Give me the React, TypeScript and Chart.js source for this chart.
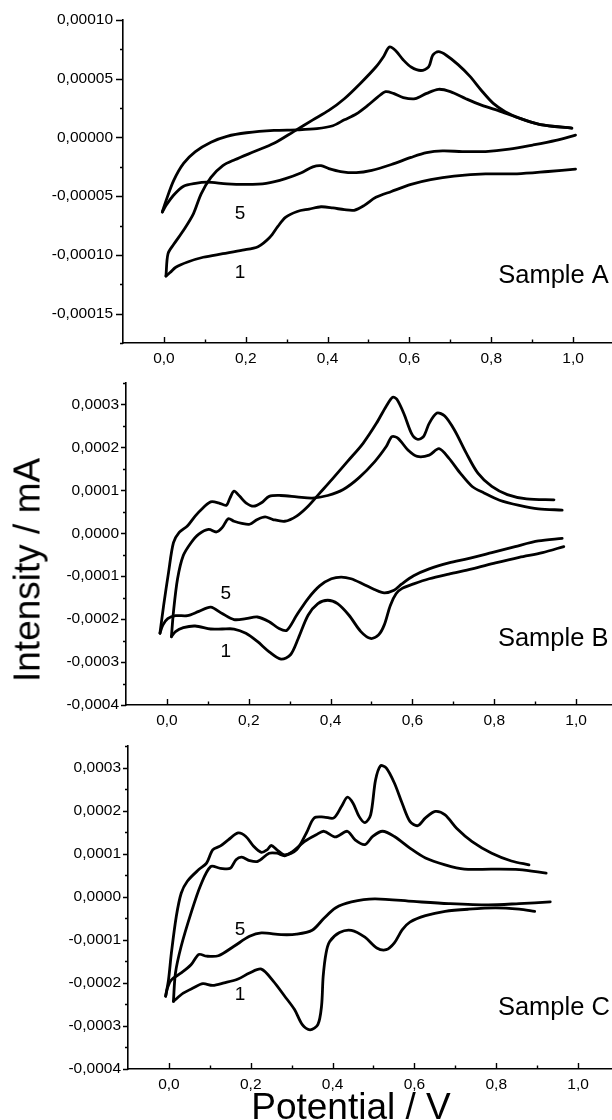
import React, { useEffect, useRef } from "react";
import { Chart, registerables } from "chart.js";

Chart.register(...registerables);

type Pt = [number, number]; // [potential V, intensity mA]

// ---------------- Sample A ----------------
const A_cycle1_anodic: Pt[] = [
  [0.005, -11.8e-5], [0.010, -9.9e-5], [0.024, -9.1e-5], [0.048, -7.9e-5], [0.072, -6.5e-5], [0.091, -4.8e-5],
  [0.115, -3.4e-5], [0.144, -2.4e-5], [0.173, -1.9e-5], [0.221, -1.2e-5], [0.269, -0.5e-5], [0.317, 0.5e-5],
  [0.364, 1.5e-5], [0.403, 2.3e-5], [0.441, 3.3e-5], [0.480, 4.6e-5], [0.518, 6.0e-5], [0.537, 6.9e-5],
  [0.551, 7.7e-5], [0.566, 7.4e-5], [0.585, 6.6e-5], [0.604, 6.0e-5], [0.628, 5.7e-5], [0.647, 6.0e-5],
  [0.657, 7.0e-5], [0.671, 7.3e-5], [0.690, 7.0e-5], [0.719, 6.2e-5], [0.748, 5.2e-5], [0.776, 4.0e-5],
  [0.805, 2.9e-5], [0.834, 2.2e-5], [0.872, 1.6e-5], [0.920, 1.1e-5], [0.997, 0.8e-5],
];
const A_cycle1_cathodic: Pt[] = [
  [1.006, -2.7e-5], [0.939, -2.9e-5], [0.863, -3.1e-5], [0.786, -3.1e-5], [0.709, -3.3e-5], [0.652, -3.6e-5],
  [0.604, -4.0e-5], [0.556, -4.6e-5], [0.518, -5.1e-5], [0.489, -5.8e-5], [0.465, -6.2e-5], [0.441, -6.15e-5],
  [0.413, -6.0e-5], [0.384, -5.9e-5], [0.355, -6.1e-5], [0.326, -6.3e-5], [0.297, -6.8e-5], [0.278, -7.6e-5],
  [0.259, -8.5e-5], [0.230, -9.3e-5], [0.192, -9.6e-5], [0.144, -9.9e-5], [0.096, -10.2e-5], [0.058, -10.6e-5],
  [0.029, -11.05e-5], [0.015, -11.5e-5], [0.005, -11.8e-5],
];
const A_cycle5_anodic: Pt[] = [
  [-0.004, -6.35e-5], [0.005, -5.4e-5], [0.024, -3.65e-5], [0.048, -2.2e-5], [0.077, -1.2e-5], [0.115, -0.4e-5],
  [0.154, 0.1e-5], [0.202, 0.4e-5], [0.269, 0.6e-5], [0.326, 0.65e-5], [0.374, 0.75e-5], [0.413, 1.0e-5],
  [0.441, 1.5e-5], [0.470, 2.0e-5], [0.499, 2.75e-5], [0.523, 3.45e-5], [0.542, 3.9e-5], [0.561, 3.75e-5],
  [0.585, 3.4e-5], [0.614, 3.3e-5], [0.642, 3.75e-5], [0.671, 4.1e-5], [0.700, 3.9e-5], [0.738, 3.3e-5],
  [0.776, 2.75e-5], [0.824, 2.2e-5], [0.872, 1.6e-5], [0.920, 1.1e-5], [0.997, 0.8e-5],
];
const A_cycle5_cathodic: Pt[] = [
  [1.006, 0.2e-5], [0.958, -0.25e-5], [0.901, -0.65e-5], [0.844, -1.0e-5], [0.786, -1.2e-5], [0.729, -1.2e-5],
  [0.681, -1.15e-5], [0.642, -1.3e-5], [0.604, -1.7e-5], [0.556, -2.3e-5], [0.508, -2.8e-5], [0.470, -3.0e-5],
  [0.432, -2.9e-5], [0.403, -2.65e-5], [0.384, -2.4e-5], [0.364, -2.5e-5], [0.336, -3.0e-5], [0.297, -3.5e-5],
  [0.250, -3.9e-5], [0.202, -4.0e-5], [0.154, -3.95e-5], [0.106, -3.8e-5], [0.077, -3.9e-5], [0.048, -4.15e-5],
  [0.024, -4.9e-5], [0.005, -5.8e-5], [-0.004, -6.35e-5],
];

// ---------------- Sample B ----------------
const B_cycle5_anodic: Pt[] = [
  [-0.017, -2.33e-4], [-0.008, -1.68e-4], [0.004, -0.91e-4], [0.016, -0.22e-4], [0.030, 0.02e-4], [0.050, 0.17e-4],
  [0.069, 0.40e-4], [0.088, 0.59e-4], [0.107, 0.73e-4], [0.126, 0.71e-4], [0.145, 0.65e-4], [0.154, 0.82e-4],
  [0.164, 0.98e-4], [0.178, 0.86e-4], [0.193, 0.71e-4], [0.212, 0.63e-4], [0.231, 0.71e-4], [0.250, 0.86e-4],
  [0.278, 0.88e-4], [0.317, 0.85e-4], [0.355, 0.82e-4], [0.393, 0.88e-4], [0.431, 1.02e-4], [0.469, 1.29e-4],
  [0.508, 1.67e-4], [0.536, 2.02e-4], [0.550, 2.25e-4], [0.565, 2.21e-4], [0.589, 1.94e-4], [0.612, 1.79e-4],
  [0.641, 1.82e-4], [0.665, 1.97e-4], [0.689, 1.75e-4], [0.717, 1.40e-4], [0.746, 1.09e-4], [0.775, 0.94e-4],
  [0.813, 0.77e-4], [0.861, 0.65e-4], [0.908, 0.57e-4], [0.966, 0.54e-4],
];
const B_cycle1_anodic: Pt[] = [
  [0.011, -2.41e-4], [0.016, -1.83e-4], [0.026, -1.06e-4], [0.040, -0.52e-4], [0.059, -0.22e-4], [0.078, -0.02e-4],
  [0.102, 0.09e-4], [0.121, 0.03e-4], [0.135, 0.13e-4], [0.150, 0.34e-4], [0.164, 0.28e-4], [0.183, 0.23e-4],
  [0.202, 0.21e-4], [0.221, 0.32e-4], [0.240, 0.38e-4], [0.259, 0.32e-4], [0.288, 0.28e-4], [0.317, 0.40e-4],
  [0.345, 0.63e-4], [0.374, 0.94e-4], [0.403, 1.25e-4], [0.441, 1.67e-4], [0.479, 2.09e-4], [0.512, 2.56e-4],
  [0.536, 2.96e-4], [0.552, 3.17e-4], [0.562, 3.12e-4], [0.579, 2.79e-4], [0.598, 2.32e-4], [0.612, 2.19e-4],
  [0.627, 2.25e-4], [0.641, 2.56e-4], [0.660, 2.80e-4], [0.679, 2.73e-4], [0.703, 2.40e-4], [0.732, 1.86e-4],
  [0.760, 1.40e-4], [0.794, 1.09e-4], [0.832, 0.90e-4], [0.879, 0.80e-4], [0.946, 0.78e-4],
];
const B_cycle5_cathodic: Pt[] = [
  [0.966, -0.12e-4], [0.908, -0.18e-4], [0.851, -0.31e-4], [0.794, -0.45e-4], [0.736, -0.59e-4], [0.689, -0.69e-4],
  [0.641, -0.83e-4], [0.603, -0.99e-4], [0.574, -1.18e-4], [0.555, -1.33e-4], [0.531, -1.39e-4], [0.507, -1.31e-4],
  [0.479, -1.18e-4], [0.450, -1.06e-4], [0.426, -1.02e-4], [0.402, -1.06e-4], [0.374, -1.22e-4], [0.345, -1.52e-4],
  [0.317, -1.91e-4], [0.293, -2.26e-4], [0.274, -2.22e-4], [0.250, -2.06e-4], [0.221, -1.95e-4], [0.193, -1.99e-4],
  [0.164, -2.01e-4], [0.135, -1.87e-4], [0.107, -1.72e-4], [0.078, -1.82e-4], [0.050, -1.92e-4], [0.021, -1.92e-4],
  [0.002, -1.99e-4], [-0.010, -2.14e-4], [-0.017, -2.33e-4],
];
const B_cycle1_cathodic: Pt[] = [
  [0.970, -0.31e-4], [0.918, -0.45e-4], [0.861, -0.56e-4], [0.803, -0.69e-4], [0.746, -0.83e-4], [0.689, -0.95e-4],
  [0.641, -1.06e-4], [0.603, -1.18e-4], [0.574, -1.29e-4], [0.560, -1.41e-4], [0.546, -1.68e-4], [0.531, -2.14e-4],
  [0.517, -2.37e-4], [0.498, -2.45e-4], [0.474, -2.29e-4], [0.445, -1.91e-4], [0.417, -1.64e-4], [0.393, -1.56e-4],
  [0.369, -1.64e-4], [0.345, -1.91e-4], [0.321, -2.45e-4], [0.302, -2.83e-4], [0.279, -2.93e-4], [0.250, -2.76e-4],
  [0.221, -2.52e-4], [0.193, -2.33e-4], [0.164, -2.23e-4], [0.135, -2.23e-4], [0.107, -2.23e-4], [0.069, -2.16e-4],
  [0.040, -2.20e-4], [0.021, -2.29e-4], [0.011, -2.41e-4],
];

// ---------------- Sample C ----------------
const C_cycle1_anodic: Pt[] = [
  [-0.008, -2.31e-4], [-0.001, -1.93e-4], [0.006, -1.31e-4], [0.018, -0.46e-4], [0.030, 0.08e-4], [0.045, 0.36e-4],
  [0.073, 0.63e-4], [0.092, 0.78e-4], [0.107, 1.09e-4], [0.126, 1.18e-4], [0.145, 1.32e-4], [0.169, 1.48e-4],
  [0.188, 1.40e-4], [0.207, 1.17e-4], [0.226, 1.03e-4], [0.240, 1.09e-4], [0.250, 1.19e-4], [0.264, 1.09e-4],
  [0.283, 0.97e-4], [0.312, 1.09e-4], [0.336, 1.48e-4], [0.355, 1.83e-4], [0.379, 1.85e-4], [0.403, 1.83e-4],
  [0.422, 2.10e-4], [0.436, 2.31e-4], [0.450, 2.17e-4], [0.465, 1.86e-4], [0.479, 1.72e-4], [0.493, 1.90e-4],
  [0.505, 2.71e-4], [0.517, 3.04e-4], [0.531, 2.99e-4], [0.551, 2.64e-4], [0.570, 2.17e-4], [0.589, 1.75e-4],
  [0.608, 1.65e-4], [0.627, 1.83e-4], [0.651, 1.98e-4], [0.675, 1.90e-4], [0.703, 1.59e-4], [0.741, 1.28e-4],
  [0.789, 1.01e-4], [0.837, 0.83e-4], [0.880, 0.74e-4],
];
const C_cycle5_anodic: Pt[] = [
  [0.011, -2.43e-4], [0.016, -1.77e-4], [0.030, -1.15e-4], [0.054, -0.38e-4], [0.078, 0.28e-4], [0.102, 0.70e-4],
  [0.126, 0.66e-4], [0.150, 0.66e-4], [0.164, 0.86e-4], [0.178, 0.92e-4], [0.197, 0.84e-4], [0.217, 0.82e-4],
  [0.245, 1.01e-4], [0.264, 1.01e-4], [0.283, 0.95e-4], [0.302, 1.05e-4], [0.331, 1.28e-4], [0.360, 1.44e-4],
  [0.379, 1.52e-4], [0.407, 1.39e-4], [0.436, 1.52e-4], [0.455, 1.32e-4], [0.479, 1.21e-4], [0.498, 1.40e-4],
  [0.522, 1.52e-4], [0.551, 1.40e-4], [0.589, 1.13e-4], [0.627, 0.90e-4], [0.675, 0.74e-4], [0.722, 0.64e-4],
  [0.789, 0.64e-4], [0.856, 0.63e-4], [0.922, 0.55e-4],
];
const C_cycle5_cathodic: Pt[] = [
  [0.932, -0.12e-4], [0.856, -0.16e-4], [0.780, -0.19e-4], [0.684, -0.16e-4], [0.598, -0.11e-4], [0.503, -0.05e-4],
  [0.446, -0.12e-4], [0.407, -0.26e-4], [0.379, -0.50e-4], [0.350, -0.78e-4], [0.312, -0.87e-4], [0.274, -0.88e-4],
  [0.226, -0.84e-4], [0.197, -0.92e-4], [0.159, -1.15e-4], [0.121, -1.37e-4], [0.092, -1.38e-4], [0.073, -1.34e-4],
  [0.054, -1.58e-4], [0.030, -1.77e-4], [0.006, -1.93e-4], [-0.003, -2.10e-4], [-0.008, -2.31e-4],
];
const C_cycle1_cathodic: Pt[] = [
  [0.894, -0.34e-4], [0.856, -0.29e-4], [0.798, -0.26e-4], [0.732, -0.29e-4], [0.675, -0.34e-4], [0.627, -0.44e-4],
  [0.589, -0.59e-4], [0.570, -0.77e-4], [0.551, -1.07e-4], [0.531, -1.23e-4], [0.508, -1.19e-4], [0.479, -0.94e-4],
  [0.446, -0.78e-4], [0.417, -0.83e-4], [0.393, -1.04e-4], [0.384, -1.31e-4], [0.377, -1.85e-4], [0.373, -2.54e-4],
  [0.364, -2.97e-4], [0.345, -3.09e-4], [0.326, -2.97e-4], [0.307, -2.62e-4], [0.283, -2.31e-4], [0.255, -1.96e-4],
  [0.226, -1.68e-4], [0.197, -1.77e-4], [0.169, -1.91e-4], [0.135, -2.00e-4], [0.107, -2.06e-4], [0.083, -2.02e-4],
  [0.059, -2.12e-4], [0.035, -2.24e-4], [0.011, -2.43e-4],
];

// ---------------- Axes ----------------
const xTicks = [0, 0.2, 0.4, 0.6, 0.8, 1.0];
const xLabels = ["0,0", "0,2", "0,4", "0,6", "0,8", "1,0"];
const xMinor = [0.1, 0.3, 0.5, 0.7, 0.9, 1.1];

const yTicksA = [-0.00015, -0.0001, -0.00005, 0, 0.00005, 0.0001];
const yLabelsA = ["-0,00015", "-0,00010", "-0,00005", "0,00000", "0,00005", "0,00010"];
const yMinorA = [-0.000175, -0.000125, -0.000075, -0.000025, 0.000025, 0.000075];

const yTicksBC = [-0.0004, -0.0003, -0.0002, -0.0001, 0, 0.0001, 0.0002, 0.0003];
const yLabelsBC = ["-0,0004", "-0,0003", "-0,0002", "-0,0001", "0,0000", "0,0001", "0,0002", "0,0003"];
const yMinorBC = [-0.00035, -0.00025, -0.00015, -0.00005, 0.00005, 0.00015, 0.00025, 0.00035];

const FONT = "'Liberation Sans', Arial, Helvetica, sans-serif";

interface Note { text: string; x: number; y: number; size: number; align: CanvasTextAlign; base: CanvasTextBaseline; }
interface Panel {
  id: string; top: number; height: number; padTop: number; padRight: number; yWidth: number; xHeight: number;
  yMin: number; yMax: number; yTicks: number[]; yLabels: string[]; yMinor: number[]; yTickLen: number; yLabelPad: number;
  branches: Pt[][]; notes: Note[];
}

const panels: Panel[] = [
  {
    id: "A", top: 0, height: 380, padTop: 20, padRight: 46, yWidth: 123, xHeight: 37,
    yMin: -0.000175, yMax: 0.0001, yTicks: yTicksA, yLabels: yLabelsA, yMinor: yMinorA, yTickLen: 7, yLabelPad: 10,
    branches: [A_cycle1_anodic, A_cycle1_cathodic, A_cycle5_anodic, A_cycle5_cathodic],
    notes: [
      { text: "5", x: 0.186, y: -0.0000647, size: 19, align: "center", base: "middle" },
      { text: "1", x: 0.186, y: -0.000115, size: 19, align: "center", base: "middle" },
      { text: "Sample A", x: 0.817, y: -0.0001236, size: 25.5, align: "left", base: "alphabetic" },
    ],
  },
  {
    id: "B", top: 360, height: 380, padTop: 23, padRight: 43, yWidth: 126, xHeight: 35,
    yMin: -0.0004, yMax: 0.00035, yTicks: yTicksBC, yLabels: yLabelsBC, yMinor: yMinorBC, yTickLen: 5, yLabelPad: 7,
    branches: [B_cycle1_anodic, B_cycle1_cathodic, B_cycle5_anodic, B_cycle5_cathodic],
    notes: [
      { text: "5", x: 0.144, y: -0.000141, size: 19, align: "center", base: "middle" },
      { text: "1", x: 0.144, y: -0.000275, size: 19, align: "center", base: "middle" },
      { text: "Sample B", x: 0.809, y: -0.000263, size: 25.5, align: "left", base: "alphabetic" },
    ],
  },
  {
    id: "C", top: 720, height: 400, padTop: 26, padRight: 41, yWidth: 128, xHeight: 51,
    yMin: -0.0004, yMax: 0.00035, yTicks: yTicksBC, yLabels: yLabelsBC, yMinor: yMinorBC, yTickLen: 5, yLabelPad: 7,
    branches: [C_cycle1_anodic, C_cycle1_cathodic, C_cycle5_anodic, C_cycle5_cathodic],
    notes: [
      { text: "5", x: 0.174, y: -0.000077, size: 19, align: "center", base: "middle" },
      { text: "1", x: 0.174, y: -0.000227, size: 19, align: "center", base: "middle" },
      { text: "Sample C", x: 0.804, y: -0.000274, size: 25.5, align: "left", base: "alphabetic" },
    ],
  },
];

function CVPanel({ p }: { p: Panel }) {
  const ref = useRef<HTMLCanvasElement>(null);
  useEffect(() => {
    const canvas = ref.current;
    if (!canvas) return;
    const decor = {
      id: "decor" + p.id,
      afterDraw(chart: any) {
        const { ctx, chartArea } = chart;
        const xs = chart.scales.x;
        const ys = chart.scales.y;
        ctx.save();
        ctx.strokeStyle = "#000";
        ctx.lineWidth = 1.4;
        ctx.beginPath();
        const b = chartArea.bottom;
        const l = chartArea.left;
        xTicks.forEach((v) => {
          const px = Math.round(xs.getPixelForValue(v)) + 0.5;
          ctx.moveTo(px, b); ctx.lineTo(px, b - 6);
        });
        xMinor.forEach((v) => {
          const px = Math.round(xs.getPixelForValue(v)) + 0.5;
          ctx.moveTo(px, b); ctx.lineTo(px, b - 3.5);
        });
        p.yTicks.forEach((v) => {
          const py = Math.round(ys.getPixelForValue(v)) + 0.5;
          ctx.moveTo(l, py); ctx.lineTo(l - p.yTickLen, py);
        });
        p.yMinor.forEach((v) => {
          const py = Math.round(ys.getPixelForValue(v)) + 0.5;
          ctx.moveTo(l, py); ctx.lineTo(l - 3, py);
        });
        ctx.stroke();
        ctx.fillStyle = "#000";
        p.notes.forEach((n) => {
          ctx.font = `${n.size}px ${FONT}`;
          ctx.textAlign = n.align;
          ctx.textBaseline = n.base;
          ctx.fillText(n.text, xs.getPixelForValue(n.x), ys.getPixelForValue(n.y));
        });
        ctx.restore();
      },
    };
    const chart = new Chart(canvas, {
      type: "scatter",
      data: {
        datasets: p.branches.map((br, i) => ({
          label: `${p.id}-${i}`,
          data: br.map(([x, y]) => ({ x, y })),
          showLine: true,
          borderColor: "#000",
          borderWidth: 2.8,
          pointRadius: 0,
          tension: 0.3,
          fill: false,
          borderCapStyle: "round",
          borderJoinStyle: "round",
        })),
      },
      options: {
        animation: false,
        responsive: false,
        maintainAspectRatio: false,
        layout: { padding: { top: p.padTop, right: p.padRight, left: 0, bottom: 0 } },
        plugins: { legend: { display: false }, tooltip: { enabled: false } },
        scales: {
          x: {
            type: "linear",
            min: -0.1,
            max: 1.1,
            grid: { display: false, drawTicks: false },
            border: { display: true, color: "#000", width: 1.6 },
            afterBuildTicks: (s: any) => { s.ticks = xTicks.map((v) => ({ value: v })); },
            afterFit: (s: any) => { s.height = p.xHeight; },
            ticks: {
              autoSkip: false, maxRotation: 0, padding: 6, color: "#000",
              font: { family: FONT, size: 15.5 },
              callback: (_v: any, i: number) => xLabels[i],
            },
          },
          y: {
            type: "linear",
            min: p.yMin,
            max: p.yMax,
            grid: { display: false, drawTicks: false },
            border: { display: true, color: "#000", width: 1.6 },
            afterBuildTicks: (s: any) => { s.ticks = p.yTicks.map((v) => ({ value: v })); },
            afterFit: (s: any) => { s.width = p.yWidth; },
            ticks: {
              autoSkip: false, padding: p.yLabelPad, color: "#000",
              font: { family: FONT, size: 15.5 },
              callback: (_v: any, i: number) => p.yLabels[i],
            },
          },
        },
      },
      plugins: [decor],
    } as any);
    return () => chart.destroy();
  }, [p]);
  return (
    <canvas
      ref={ref}
      width={660}
      height={p.height}
      style={{ position: "absolute", left: 0, top: p.top, width: 660, height: p.height }}
    />
  );
}

export default function App() {
  return (
    <div style={{ position: "fixed", left: 0, top: 0, width: 612, height: 1120, overflow: "hidden", background: "#fff" }}>
      {panels.map((p) => (
        <CVPanel key={p.id} p={p} />
      ))}
      <div
        style={{
          position: "absolute", left: 26.7, top: 570, transform: "translate(-50%,-50%) rotate(-90deg)",
          fontFamily: FONT, fontSize: 37, lineHeight: "37px", whiteSpace: "nowrap", color: "#000",
        }}
      >
        Intensity / mA
      </div>
      <div
        style={{
          position: "absolute", left: 351, top: 1088, transform: "translateX(-50%)",
          fontFamily: FONT, fontSize: 37, lineHeight: "37px", whiteSpace: "nowrap", color: "#000",
        }}
      >
        Potential / V
      </div>
    </div>
  );
}
